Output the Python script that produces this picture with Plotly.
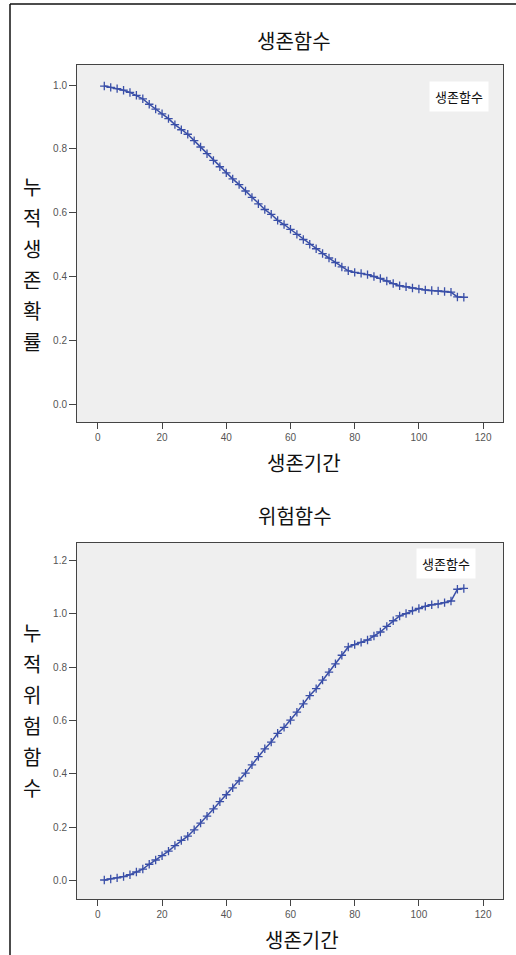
import plotly.graph_objects as go

# ---- data ----
time = [2, 4, 6, 8, 10, 12, 14, 16, 18, 20, 22, 24, 26, 28, 30, 32, 34, 36, 38, 40,
        42, 44, 46, 48, 50, 52, 54, 56, 58, 60, 62, 64, 66, 68, 70, 72, 74, 76, 78, 80,
        82, 84, 86, 88, 90, 92, 94, 96, 98, 100, 102, 104, 106, 108, 110, 112, 114]
survival = [0.997, 0.993, 0.989, 0.984, 0.977, 0.968, 0.957, 0.940, 0.925, 0.910,
            0.895, 0.876, 0.860, 0.846, 0.826, 0.806, 0.785, 0.764, 0.744, 0.725,
            0.706, 0.688, 0.668, 0.648, 0.628, 0.610, 0.595, 0.576, 0.563, 0.548,
            0.532, 0.516, 0.501, 0.487, 0.472, 0.458, 0.444, 0.430, 0.418, 0.413,
            0.410, 0.406, 0.400, 0.394, 0.386, 0.378, 0.371, 0.368, 0.364, 0.361,
            0.358, 0.356, 0.355, 0.353, 0.351, 0.336, 0.335]
hazard = [0.003, 0.007, 0.011, 0.016, 0.023, 0.033, 0.044, 0.062, 0.078, 0.094,
          0.111, 0.132, 0.151, 0.167, 0.191, 0.216, 0.242, 0.269, 0.296, 0.322,
          0.348, 0.374, 0.403, 0.434, 0.465, 0.494, 0.519, 0.552, 0.574, 0.601,
          0.631, 0.662, 0.693, 0.719, 0.751, 0.781, 0.812, 0.844, 0.875, 0.884,
          0.892, 0.901, 0.916, 0.931, 0.952, 0.973, 0.991, 1.000, 1.011, 1.019,
          1.027, 1.033, 1.036, 1.041, 1.047, 1.091, 1.094]
x_ticks = [0, 20, 40, 60, 80, 100, 120]
s_ticks = [0.0, 0.2, 0.4, 0.6, 0.8, 1.0]
h_ticks = [0.0, 0.2, 0.4, 0.6, 0.8, 1.0, 1.2]
legend_label = "생존함수"

W, H = 516, 955
KR = "Noto Sans CJK KR"
TICKF = dict(family="Liberation Sans, Arial", size=10, color="#555555")
BLUE = "#3a4fa8"

def px(x):
    return x / W

def py(y):
    return 1 - y / H

fig = go.Figure()
for yaxis, vals in (("y", survival), ("y2", hazard)):
    fig.add_trace(go.Scatter(
        x=time, y=vals, xaxis="x" if yaxis == "y" else "x2", yaxis=yaxis,
        mode="lines+markers", line=dict(shape="linear", color=BLUE, width=1.5),
        marker=dict(symbol="cross-thin", size=6, line=dict(color=BLUE, width=1.3)),
        showlegend=False, hoverinfo="skip"))

axis_common = dict(showgrid=False, zeroline=False, showline=True, linecolor="#444444",
                   linewidth=1, mirror=True, ticks="outside", tickcolor="#444444",
                   tickfont=TICKF)
fig.update_layout(
    width=W, height=H, margin=dict(l=0, r=0, t=0, b=0),
    paper_bgcolor="white", plot_bgcolor="#efefef",
    xaxis=dict(domain=[px(77), px(503)], range=[-6.5, 126.2], tickvals=x_ticks,
               ticklen=6, anchor="y", **axis_common),
    yaxis=dict(domain=[py(422), py(65)], range=[-0.056, 1.063], tickvals=s_ticks,
               tickformat=".1f", ticklen=7, anchor="x", **axis_common),
    xaxis2=dict(domain=[px(77), px(503)], range=[-6.5, 126.2], tickvals=x_ticks,
                ticklen=6, anchor="y2", **axis_common),
    yaxis2=dict(domain=[py(899), py(543)], range=[-0.068, 1.264], tickvals=h_ticks,
                tickformat=".1f", ticklen=7, anchor="x2", **axis_common),
)

ann = []
def text(x, y, s, size=20, **kw):
    ann.append(dict(x=px(x), y=py(y), xref="paper", yref="paper", text=s,
                    showarrow=False, font=dict(family=KR, size=size, color="#111111"),
                    xanchor="center", yanchor="middle", **kw))

text(294, 40, "생존함수")
text(304, 462, "생존기간")
text(295, 515, "위험함수")
text(302, 939, "생존기간")
for i, ch in enumerate("누적생존확률"):
    text(32, 186 + i * 31, ch)
for i, ch in enumerate("누적위험함수"):
    text(32, 632 + i * 31, ch)
text(459, 96, legend_label, size=13, bgcolor="white", borderpad=5)
text(446, 563, legend_label, size=13, bgcolor="white", borderpad=5)

shapes = [
    dict(type="line", xref="paper", yref="paper", x0=px(10), x1=px(10), y0=py(4), y1=0,
         line=dict(color="#111111", width=1.5)),
    dict(type="line", xref="paper", yref="paper", x0=px(10), x1=1, y0=py(4), y1=py(4),
         line=dict(color="#111111", width=1.5)),
]
fig.update_layout(annotations=ann, shapes=shapes)
fig.write_html("out.html")
